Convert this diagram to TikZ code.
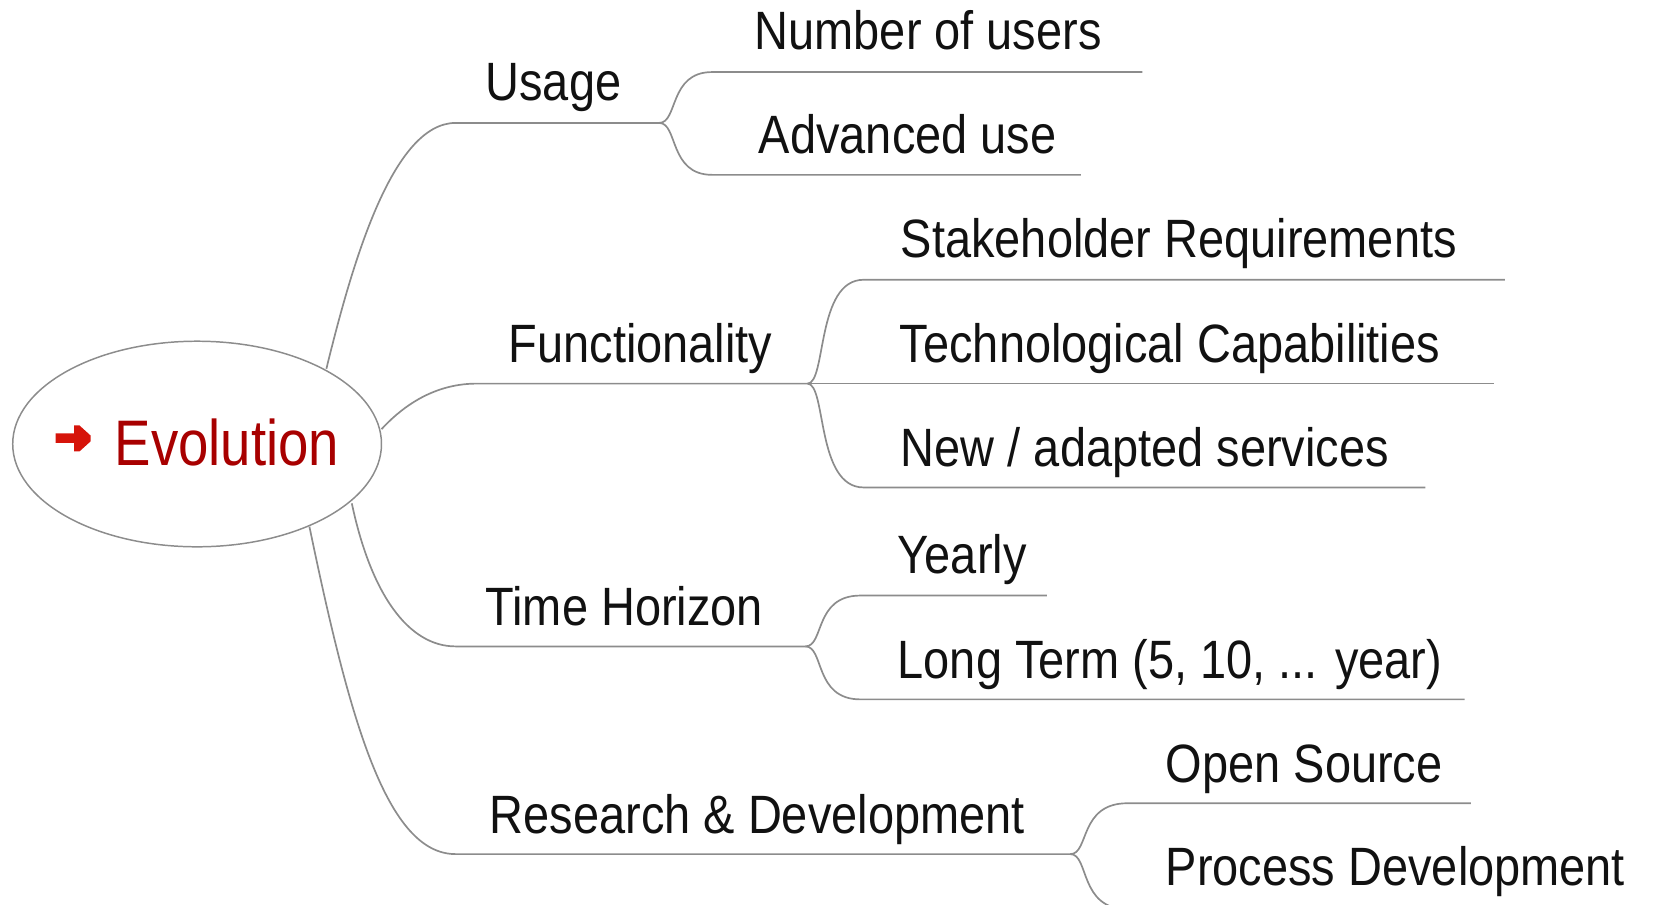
\documentclass[tikz,border=0pt]{standalone}
\usepackage{fontspec}
\setmainfont{Liberation Sans}
\usetikzlibrary{shapes.geometric}
\definecolor{evored}{RGB}{168,0,0}
\definecolor{arrowred}{RGB}{214,20,10}
\definecolor{linegray}{RGB}{140,140,140}
\definecolor{txt}{RGB}{17,17,17}
\newcommand{\vs}[1]{\scalebox{1}[1.15]{#1}}
\begin{document}
\begin{tikzpicture}[x=1pt,y=-1pt,
  lbl/.style={anchor=base west, inner sep=0pt, text=txt, font=\fontsize{44.3}{50}\selectfont},
  conn/.style={draw=linegray, line width=1.6pt},
  rootstyle/.style={ellipse, draw=linegray, line width=1.4pt, minimum width=348pt, minimum height=194pt, inner sep=0pt},
]
\useasboundingbox (0,0) rectangle (1566.5,853.2);
\clip (0,0) rectangle (1566.5,853.2);

% root
\node[rootstyle] (root) at (186,419) {};
\fill[arrowred] (52.5,409) -- (70,409) -- (70,401.5) -- (75,401.5) -- (85.5,411) -- (85.5,416.5) -- (75,426) -- (70,426) -- (70,418) -- (52.5,418) -- cycle;
\node[anchor=base west, inner sep=0pt, text=evored, font=\fontsize{51.5}{60}\selectfont] (evo) at (108,439) {\scalebox{1}[1.18]{Evolution}};

% labels
\node[lbl] (usage) at (458,95) {\vs{Usage}};
\node[lbl] (nusers) at (712,47) {\vs{Number of users}};
\node[lbl] (adv) at (716,145) {\vs{Advanced use}};
\node[lbl] (func) at (480,342) {\vs{Functionality}};
\node[lbl] (stake) at (850,243) {\vs{Stakeholder Requirements}};
\node[lbl] (tech) at (849,342) {\vs{Technological Capabilities}};
\node[lbl] (newad) at (850,440) {\vs{New / adapted services}};
\node[lbl] (time) at (458,590) {\vs{Time Horizon}};
\node[lbl] (yearly) at (847,541) {\vs{Yearly}};
\node[lbl] (longt) at (847,640) {\vs{Long Term (5, 10, ... year)}};
\node[lbl] (rd) at (462,787) {\vs{Research \& Development}};
\node[lbl] (opens) at (1100,738) {\vs{Open Source}};
\node[lbl] (procd) at (1100,836) {\vs{Process Development}};

% coordinates
\coordinate (u0) at (308,348);
\coordinate (u1) at (430,116);
\coordinate (uf) at (622,116);
\coordinate (ua) at (672,68);  \coordinate (uae) at (1078,68);
\coordinate (ub) at (672,165); \coordinate (ube) at (1020,165);

\coordinate (f0) at (360,405);
\coordinate (f1) at (450,362);
\coordinate (ff) at (762,362);
\coordinate (fa) at (815,264); \coordinate (fae) at (1420,264);
\coordinate (fbe) at (1410,362);
\coordinate (fc) at (815,460); \coordinate (fce) at (1345,460);

\coordinate (t0) at (332,475);
\coordinate (t1) at (430,610);
\coordinate (tf) at (760,610);
\coordinate (ta) at (812,562); \coordinate (tae) at (988,562);
\coordinate (tb) at (812,660); \coordinate (tbe) at (1382,660);

\coordinate (r0) at (292,497);
\coordinate (r1) at (430,806);
\coordinate (rf) at (1010,806);
\coordinate (ra) at (1064,758); \coordinate (rae) at (1388,758);
\coordinate (rb) at (1064,858); \coordinate (rbe) at (1566,858);

% main branches
\draw[conn] (u0) .. controls (332,250) and (370,116) .. (u1) -- (uf);
\draw[conn] (f0) .. controls (385,378) and (415,362) .. (f1) -- (ff);
\draw[conn] (t0) .. controls (350,560) and (385,610) .. (t1) -- (tf);
\draw[conn] (r0) .. controls (330,680) and (365,806) .. (r1) -- (rf);

% sub branches
\draw[conn] (uf) .. controls (640,116) and (631,68) .. (ua) -- (uae);
\draw[conn] (uf) .. controls (640,116) and (631,165) .. (ub) -- (ube);
\draw[conn] (ff) .. controls (780,362) and (770,264) .. (fa) -- (fae);
\draw[conn] (ff) -- (fbe);
\draw[conn] (ff) .. controls (780,362) and (770,460) .. (fc) -- (fce);
\draw[conn] (tf) .. controls (778,610) and (768,562) .. (ta) -- (tae);
\draw[conn] (tf) .. controls (778,610) and (768,660) .. (tb) -- (tbe);
\draw[conn] (rf) .. controls (1028,806) and (1018,758) .. (ra) -- (rae);
\draw[conn] (rf) .. controls (1028,806) and (1018,858) .. (rb) -- (rbe);
\end{tikzpicture}
\end{document}
